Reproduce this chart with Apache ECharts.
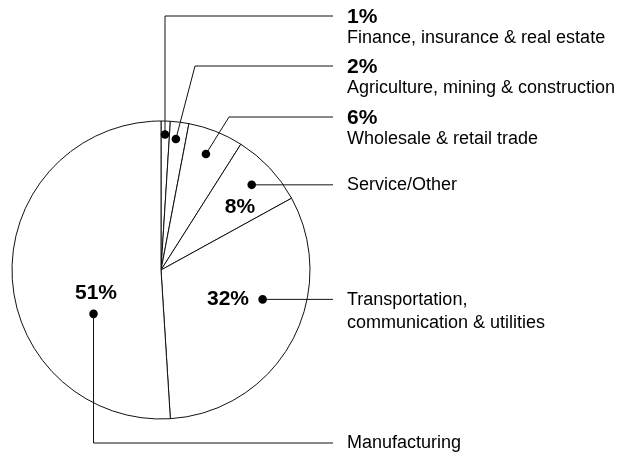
<!DOCTYPE html>
<html>
<head>
<meta charset="utf-8">
<script src="https://cdn.jsdelivr.net/npm/echarts@6/dist/echarts.min.js"></script>
<style>
  html, body { margin: 0; padding: 0; background: #fff; }
  #main { width: 629px; height: 457px; }
</style>
</head>
<body>
<div id="main"></div>
<script>
// shares of the total, clockwise from 12 o'clock
const categories = ['Finance, insurance & real estate', 'Agriculture, mining & construction',
  'Wholesale & retail trade', 'Service/Other', 'Transportation,\ncommunication & utilities', 'Manufacturing'];
const shares = [1, 2, 6, 8, 32, 51];
const pctLabels = ['1%', '2%', '6%', '8%', '32%', '51%'];

// layout only: where the dot sits inside each slice (fraction of slice angle, fraction of radius)
const dotSpots = [[0.47, 0.91], [0.4, 0.885], [0.48, 0.835], [0.5, 0.835], [0.39, 0.71], [0.33, 0.54]];

const cx = 161, cy = 270, R = 149;
const lineEnd = 333, textX = 347;
const fontFam = '"Liberation Sans", Arial, Helvetica, sans-serif';

let chart = echarts.init(document.getElementById('main'));

const total = shares.reduce((a, b) => a + b, 0);
let acc = 0;
const dots = shares.map((v, i) => {
  const a0 = acc / total * 360;
  acc += v;
  const a1 = acc / total * 360;
  const th = (a0 + (a1 - a0) * dotSpots[i][0]) * Math.PI / 180;
  const r = R * dotSpots[i][1];
  return [cx + r * Math.sin(th), cy - r * Math.cos(th)];
});

const g = [];
const lineStyle = { stroke: '#111', lineWidth: 1, fill: null };
function leader(points) {
  g.push({ type: 'polyline', shape: { points: points }, style: lineStyle, z: 10 });
}
function dot(p) {
  g.push({ type: 'circle', shape: { cx: p[0], cy: p[1], r: 4.3 }, style: { fill: '#000' }, z: 11 });
}
function txt(x, y, s, bold, align) {
  g.push({ type: 'text', x: x, y: y, z: 12, style: {
    text: s, fill: '#000', font: (bold ? 'bold 21px ' : '18px ') + fontFam,
    align: align || 'left', verticalAlign: 'middle' } });
}

// top three: bold share above name, elbow leaders
const topRows = [16, 66, 117];
const elbowX = [null, 195, 229];
for (let i = 0; i < 3; i++) {
  const p = dots[i];
  const ex = elbowX[i] === null ? p[0] : elbowX[i];
  leader([p, [ex, topRows[i]], [lineEnd, topRows[i]]]);
  dot(p);
  txt(textX, topRows[i] + 1, pctLabels[i], true);
  txt(textX, topRows[i] + 22, categories[i], false);
}
// Service/Other
leader([dots[3], [lineEnd, dots[3][1]]]);
dot(dots[3]);
txt(textX, dots[3][1], categories[3], false);
txt(240, 207, pctLabels[3], true, 'center');
// Transportation
leader([dots[4], [lineEnd, dots[4][1]]]);
dot(dots[4]);
const tl = categories[4].split('\n');
txt(textX, dots[4][1] + 1, tl[0], false);
txt(textX, dots[4][1] + 24, tl[1], false);
txt(228, 299, pctLabels[4], true, 'center');
// Manufacturing
leader([dots[5], [dots[5][0], 443], [lineEnd, 443]]);
dot(dots[5]);
txt(textX, 443, categories[5], false);
txt(96, 293, pctLabels[5], true, 'center');

chart.setOption({
  backgroundColor: '#fff',
  animation: false,
  series: [{
    type: 'pie',
    silent: true,
    center: [cx, cy],
    radius: [0, R],
    startAngle: 90,
    clockwise: true,
    label: { show: false },
    labelLine: { show: false },
    itemStyle: { color: '#fff', borderColor: '#111', borderWidth: 1 },
    data: categories.map((c, i) => ({ name: c, value: shares[i] }))
  }],
  graphic: g
});
</script>
</body>
</html>
